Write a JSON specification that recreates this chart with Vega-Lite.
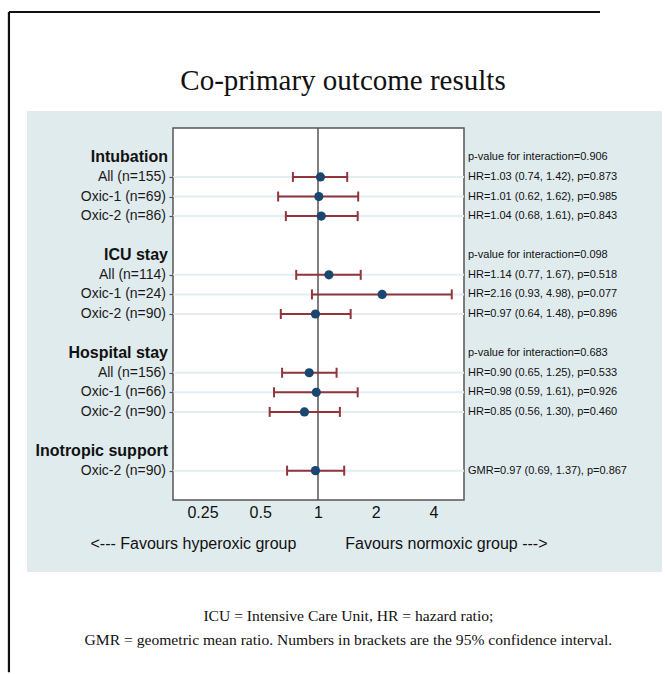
{
  "$schema": "https://vega.github.io/schema/vega-lite/v6.json",
  "autosize": {"type": "none"},
  "padding": {"left": 173, "top": 128, "right": 201, "bottom": 174},
  "width": 291,
  "height": 372,
  "background": "white",
  "view": {"stroke": null, "fill": null},
  "data": {"values": [
    {"row": 0, "kind": "header", "label": "Intubation", "stat": "p-value for interaction=0.906"},
    {"row": 1, "kind": "item", "label": "All (n=155)", "est": 1.03, "lo": 0.74, "hi": 1.42, "stat": "HR=1.03 (0.74, 1.42), p=0.873"},
    {"row": 2, "kind": "item", "label": "Oxic-1 (n=69)", "est": 1.01, "lo": 0.62, "hi": 1.62, "stat": "HR=1.01 (0.62, 1.62), p=0.985"},
    {"row": 3, "kind": "item", "label": "Oxic-2 (n=86)", "est": 1.04, "lo": 0.68, "hi": 1.61, "stat": "HR=1.04 (0.68, 1.61), p=0.843"},
    {"row": 5, "kind": "header", "label": "ICU stay", "stat": "p-value for interaction=0.098"},
    {"row": 6, "kind": "item", "label": "All (n=114)", "est": 1.14, "lo": 0.77, "hi": 1.67, "stat": "HR=1.14 (0.77, 1.67), p=0.518"},
    {"row": 7, "kind": "item", "label": "Oxic-1 (n=24)", "est": 2.16, "lo": 0.93, "hi": 4.98, "stat": "HR=2.16 (0.93, 4.98), p=0.077"},
    {"row": 8, "kind": "item", "label": "Oxic-2 (n=90)", "est": 0.97, "lo": 0.64, "hi": 1.48, "stat": "HR=0.97 (0.64, 1.48), p=0.896"},
    {"row": 10, "kind": "header", "label": "Hospital stay", "stat": "p-value for interaction=0.683"},
    {"row": 11, "kind": "item", "label": "All (n=156)", "est": 0.90, "lo": 0.65, "hi": 1.25, "stat": "HR=0.90 (0.65, 1.25), p=0.533"},
    {"row": 12, "kind": "item", "label": "Oxic-1 (n=66)", "est": 0.98, "lo": 0.59, "hi": 1.61, "stat": "HR=0.98 (0.59, 1.61), p=0.926"},
    {"row": 13, "kind": "item", "label": "Oxic-2 (n=90)", "est": 0.85, "lo": 0.56, "hi": 1.30, "stat": "HR=0.85 (0.56, 1.30), p=0.460"},
    {"row": 15, "kind": "header", "label": "Inotropic support", "stat": ""},
    {"row": 16, "kind": "item", "label": "Oxic-2 (n=90)", "est": 0.97, "lo": 0.69, "hi": 1.37, "stat": "GMR=0.97 (0.69, 1.37), p=0.867"}
  ]},
  "layer": [
    {
      "data": {"values": [{"edge": "top"}]},
      "mark": {"type": "rule", "color": "#111111", "strokeWidth": 2.2},
      "encoding": {"x": {"datum": 0.0245}, "x2": {"datum": 29.5}, "y": {"datum": -7.424}}
    },
    {
      "data": {"values": [{"edge": "left"}]},
      "mark": {"type": "rule", "color": "#111111", "strokeWidth": 2.2},
      "encoding": {"x": {"datum": 0.0245}, "y": {"datum": -7.424}, "y2": {"datum": 26.3}}
    },
    {
      "data": {"values": [{"box": "panel"}]},
      "mark": {"type": "rect", "fill": "#e0ebee", "stroke": null},
      "encoding": {"x": {"datum": 0.0304}, "x2": {"datum": 62.1}, "y": {"datum": -2.368}, "y2": {"datum": 21.18}}
    },
    {
      "data": {"values": [{"box": "plot"}]},
      "mark": {"type": "rect", "fill": "white", "stroke": "#555555", "strokeWidth": 1.5},
      "encoding": {"x": {"datum": 0.1755}, "x2": {"datum": 5.768}, "y": {"datum": -1.5}, "y2": {"datum": 17.5}}
    },
    {
      "transform": [{"filter": "datum.kind == 'item'"}],
      "mark": {"type": "rule", "color": "#e4eef2", "strokeWidth": 2},
      "encoding": {"x": {"datum": 0.1755}, "x2": {"datum": 5.768}, "y": {"field": "row", "type": "quantitative"}}
    },
    {
      "data": {"values": [{"ref": 1}]},
      "mark": {"type": "rule", "color": "#555555", "strokeWidth": 1.5},
      "encoding": {"x": {"field": "ref", "type": "quantitative"}, "y": {"datum": -1.5}, "y2": {"datum": 17.5}}
    },
    {
      "transform": [{"filter": "datum.kind == 'item'"}],
      "mark": {"type": "rule", "color": "#90353b", "strokeWidth": 2},
      "encoding": {"x": {"field": "lo", "type": "quantitative"}, "x2": {"field": "hi"}, "y": {"field": "row", "type": "quantitative"}}
    },
    {
      "transform": [{"filter": "datum.kind == 'item'"}],
      "mark": {"type": "tick", "orient": "vertical", "color": "#90353b", "size": 10, "thickness": 2, "opacity": 1},
      "encoding": {"x": {"field": "lo", "type": "quantitative"}, "y": {"field": "row", "type": "quantitative"}}
    },
    {
      "transform": [{"filter": "datum.kind == 'item'"}],
      "mark": {"type": "tick", "orient": "vertical", "color": "#90353b", "size": 10, "thickness": 2, "opacity": 1},
      "encoding": {"x": {"field": "hi", "type": "quantitative"}, "y": {"field": "row", "type": "quantitative"}}
    },
    {
      "transform": [{"filter": "datum.kind == 'item'"}],
      "mark": {"type": "circle", "color": "#1a476f", "size": 85, "opacity": 1},
      "encoding": {
        "x": {"field": "est", "type": "quantitative",
          "scale": {"type": "log", "domain": [0.1755, 5.768], "nice": false},
          "axis": {"zindex": 2, "values": [0.25, 0.5, 1, 2, 4], "format": "~g", "title": "<--- Favours hyperoxic group\u00a0\u00a0\u00a0\u00a0\u00a0\u00a0\u00a0\u00a0\u00a0\u00a0\u00a0Favours normoxic group --->"}},
        "y": {"field": "row", "type": "quantitative",
          "scale": {"domain": [-1.5, 17.5], "reverse": true, "nice": false, "zero": false},
          "axis": {"zindex": 2, "values": [1, 2, 3, 6, 7, 8, 11, 12, 13, 16], "labels": false, "title": null}}
      }
    },
    {
      "transform": [{"filter": "datum.kind == 'item'"}],
      "mark": {"type": "text", "align": "right", "baseline": "middle", "dx": -7, "font": "Liberation Sans", "fontSize": 14, "color": "#1a1a1a"},
      "encoding": {"x": {"datum": 0.1755}, "y": {"field": "row", "type": "quantitative"}, "text": {"field": "label"}}
    },
    {
      "transform": [{"filter": "datum.kind == 'header'"}],
      "mark": {"type": "text", "align": "right", "baseline": "middle", "dx": -5, "font": "Liberation Sans", "fontSize": 16, "fontWeight": "bold", "color": "#111111"},
      "encoding": {"x": {"datum": 0.1755}, "y": {"field": "row", "type": "quantitative"}, "text": {"field": "label"}}
    },
    {
      "transform": [{"filter": "datum.stat != ''"}],
      "mark": {"type": "text", "align": "left", "baseline": "middle", "dx": 4, "font": "Liberation Sans", "fontSize": 11, "color": "#111111"},
      "encoding": {"x": {"datum": 5.768}, "y": {"field": "row", "type": "quantitative"}, "text": {"field": "stat"}}
    },
    {
      "data": {"values": [{"title": "Co-primary outcome results"}]},
      "mark": {"type": "text", "align": "center", "baseline": "middle", "font": "Liberation Serif", "fontSize": 29, "color": "#111111"},
      "encoding": {"x": {"datum": 1.35}, "y": {"datum": -3.9}, "text": {"field": "title"}}
    },
    {
      "data": {"values": [{"note": ["ICU = Intensive Care Unit, HR = hazard ratio;", "GMR = geometric mean ratio. Numbers in brackets are the 95% confidence interval."]}]},
      "mark": {"type": "text", "align": "center", "baseline": "middle", "font": "Liberation Serif", "fontSize": 15.6, "lineHeight": 24, "color": "#111111"},
      "encoding": {"x": {"datum": 1.44}, "y": {"datum": 23.42}, "text": {"field": "note"}}
    }
  ],
  "config": {
    "mark": {"invalid": null},
    "axisX": {"domain": false, "ticks": false, "grid": false, "labelFont": "Liberation Sans", "labelFontSize": 16, "labelColor": "#111111", "labelPadding": 4, "titleFont": "Liberation Sans", "titleFontSize": 16, "titleFontWeight": "normal", "titleColor": "#111111", "titlePadding": 15},
    "axisY": {"domain": false, "ticks": true, "tickSize": 4, "tickColor": "#555555", "tickWidth": 1.2, "grid": false}
  }
}
